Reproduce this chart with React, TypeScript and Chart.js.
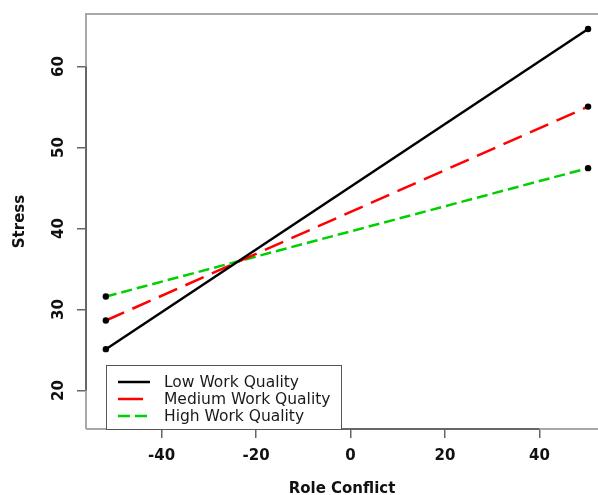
import React, { useEffect, useRef } from "react";
import { Chart, registerables } from "chart.js";

Chart.register(...registerables);

const roleConflict = [-51.8, 50.3];
const lowWorkQuality = [25.1, 64.65];
const mediumWorkQuality = [28.64, 55.06];
const highWorkQuality = [31.6, 47.46];
const seriesLabels = ["Low Work Quality", "Medium Work Quality", "High Work Quality"];
const xTicks = [-40, -20, 0, 20, 40];
const yTicks = [20, 30, 40, 50, 60];

const FONT = "'DejaVu Sans', sans-serif";

const boxPlugin = {
  id: "rbox",
  beforeDatasetsDraw(chart: any) {
    const { ctx, chartArea: ca, scales } = chart;
    ctx.save();
    ctx.strokeStyle = "#a8a8a8";
    ctx.lineWidth = 2;
    ctx.beginPath();
    ctx.moveTo(ca.left, ca.bottom);
    ctx.lineTo(ca.left, ca.top);
    ctx.lineTo(ca.right + 5, ca.top);
    ctx.moveTo(ca.left, ca.bottom);
    ctx.lineTo(ca.right + 5, ca.bottom);
    ctx.stroke();
    ctx.strokeStyle = "#666";
    ctx.lineWidth = 2;
    ctx.beginPath();
    const y0 = scales.y.getPixelForValue(yTicks[0]);
    const y1 = scales.y.getPixelForValue(yTicks[yTicks.length - 1]);
    ctx.moveTo(ca.left, y0);
    ctx.lineTo(ca.left, y1);
    const x0 = scales.x.getPixelForValue(xTicks[0]);
    const x1 = scales.x.getPixelForValue(xTicks[xTicks.length - 1]);
    ctx.moveTo(x0, ca.bottom);
    ctx.lineTo(x1, ca.bottom);
    ctx.stroke();
    ctx.restore();
  },
  afterDatasetsDraw(chart: any) {
    const { ctx, chartArea: ca } = chart;
    const left = ca.left + 20;
    const right = ca.left + 255;
    const top = ca.bottom - 64;
    const bottom = ca.bottom;
    ctx.save();
    ctx.fillStyle = "#fff";
    ctx.fillRect(left, top, right - left, bottom - top);
    ctx.strokeStyle = "#555";
    ctx.lineWidth = 1;
    ctx.strokeRect(left + 0.5, top + 0.5, right - left, bottom - top);
    const ds = chart.data.datasets;
    ds.forEach((d: any, i: number) => {
      const y = top + 17 + i * 17;
      ctx.beginPath();
      ctx.strokeStyle = d.borderColor;
      ctx.lineWidth = 2.5;
      ctx.setLineDash(d.legendDash || []);
      ctx.moveTo(left + 12, y);
      ctx.lineTo(left + 44, y);
      ctx.stroke();
      ctx.setLineDash([]);
      ctx.fillStyle = "#1a1a1a";
      ctx.font = `15.5px ${FONT}`;
      ctx.textBaseline = "middle";
      ctx.textAlign = "left";
      ctx.fillText(d.label, left + 58, y + 1);
    });
    ctx.restore();
  },
};

const noPad = (s: any) => {
  s.paddingTop = 0;
  s.paddingBottom = 0;
  s.paddingLeft = 0;
  s.paddingRight = 0;
};

export default function App() {
  const ref = useRef<HTMLCanvasElement>(null);
  useEffect(() => {
    if (!ref.current) return;
    const mk = (vals: number[]) => roleConflict.map((x, i) => ({ x, y: vals[i] }));
    const pointStyle = { pointRadius: 3.2, pointBorderWidth: 0, pointBackgroundColor: "#000", pointBorderColor: "#000" };
    const chart = new Chart(ref.current, {
      type: "line",
      data: {
        datasets: [
          {
            label: seriesLabels[0],
            data: mk(lowWorkQuality),
            borderColor: "#000000",
            borderWidth: 2.5,
            ...pointStyle,
          },
          {
            label: seriesLabels[1],
            data: mk(mediumWorkQuality),
            borderColor: "#ff0000",
            borderWidth: 2.5,
            borderDash: [20, 9],
            legendDash: [25, 10],
            ...pointStyle,
          },
          {
            label: seriesLabels[2],
            data: mk(highWorkQuality),
            borderColor: "#00d000",
            borderWidth: 2.5,
            borderDash: [11, 5],
            legendDash: [12, 5],
            ...pointStyle,
          },
        ],
      },
      options: {
        animation: false,
        responsive: false,
        layout: { autoPadding: false, padding: { top: 14, right: 0, left: 0, bottom: 0 } },
        plugins: { legend: { display: false }, tooltip: { enabled: false } },
        scales: {
          x: {
            type: "linear",
            min: -56,
            max: 52.4,
            afterFit: (s: any) => { s.height = 66; noPad(s); },
            afterBuildTicks: (s: any) => { s.ticks = xTicks.map((v) => ({ value: v })); },
            border: { display: false },
            grid: { drawOnChartArea: false, drawTicks: true, tickLength: 9, color: "#666", lineWidth: 1.5 },
            ticks: { font: { family: FONT, size: 15, weight: "bold" }, color: "#111", padding: 9, maxRotation: 0 },
            title: { display: true, text: "Role Conflict", font: { family: FONT, size: 15, weight: "bold", lineHeight: 0.85 }, color: "#111", padding: 0 },
          },
          y: {
            type: "linear",
            min: 15.24,
            max: 66.5,
            afterFit: (s: any) => { s.width = 86; noPad(s); },
            afterBuildTicks: (s: any) => { s.ticks = yTicks.map((v) => ({ value: v })); },
            border: { display: false },
            grid: { drawOnChartArea: false, drawTicks: true, tickLength: 9, color: "#666", lineWidth: 1.5 },
            ticks: { font: { family: FONT, size: 15, weight: "bold" }, color: "#111", padding: 7, minRotation: 90, maxRotation: 90, crossAlign: "center" },
            title: { display: true, text: "Stress", font: { family: FONT, size: 15, weight: "bold", lineHeight: 1 }, color: "#111", padding: { top: 13, bottom: 0 } },
          },
        },
      },
      plugins: [boxPlugin],
    } as any);
    return () => chart.destroy();
  }, []);
  return (
    <div style={{ position: "fixed", left: 0, top: 0, width: 598, height: 495, background: "#fff" }}>
      <canvas ref={ref} width={598} height={495} style={{ display: "block" }} />
    </div>
  );
}
